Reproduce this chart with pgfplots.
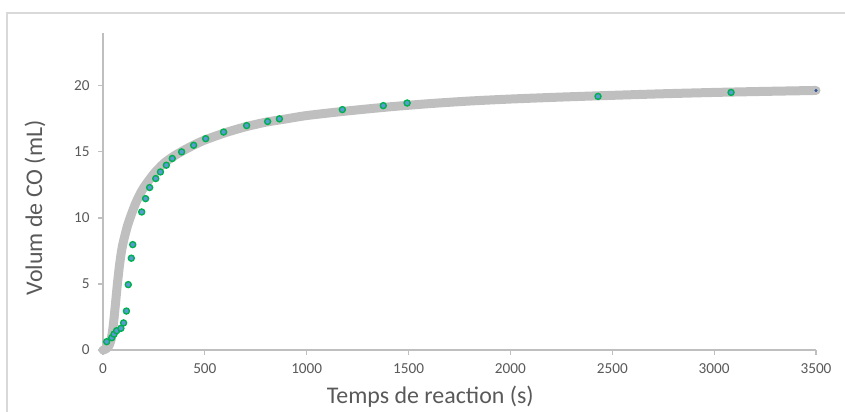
\documentclass[border=0pt]{standalone}
\usepackage{pgfplots}
\pgfplotsset{compat=1.18}
\usepackage{fontspec}
\setmainfont{Carlito}
\definecolor{axisgray}{HTML}{BFBFBF}
\definecolor{textgray}{HTML}{595959}
\definecolor{framegray}{HTML}{D9D9D9}
\definecolor{curvegray}{HTML}{BFBFBF}
\definecolor{mkgreen}{HTML}{00B050}
\definecolor{mkblue}{HTML}{5B9BD5}
\definecolor{enddot}{HTML}{2F5597}
\begin{document}
\begin{tikzpicture}
\useasboundingbox (0,0) rectangle (845bp,412bp);
\draw[framegray, line width=1.5bp] (7bp,0) -- (7bp,399bp) -- (845bp,399bp);
\begin{axis}[
  at={(103bp,62bp)}, anchor=south west,
  scale only axis, width=713bp, height=317bp,
  xmin=0, xmax=3500, ymin=0, ymax=24,
  xtick={0,500,...,3500}, ytick={0,5,...,20},
  axis x line=bottom, axis y line=left,
  axis line style={axisgray, line width=1.2bp, -},
  tick style={axisgray, line width=1.2bp},
  tick align=outside, major tick length=5bp,
  xtick pos=bottom, ytick pos=left,
  ticklabel style={font=\fontsize{15.3}{17}\selectfont, text=textgray},
  /pgf/number format/assume math mode=true,
  /pgf/number format/set thousands separator={},
  xticklabel style={yshift=-5bp},
  yticklabel style={xshift=-5bp},
  xlabel={Temps de reaction (s)},
  ylabel={Volum de CO (mL)},
  label style={font=\fontsize{24}{28}\selectfont, text=textgray},
  xlabel style={at={(axis description cs:0.459,-0.148)}, anchor=center},
  ylabel style={at={(axis description cs:-0.0954,0.448)}, anchor=center},
  clip=false,
]
\addplot[curvegray, line width=9bp, line cap=round, line join=round, smooth, tension=0.4] coordinates {
(0,0) (10,0.05) (20,0.15) (30,0.35) (40,0.8) (50,1.8) (60,3.3) (70,4.9) (80,6.3) (90,7.4) (100,8.2)
(120,9.4) (140,10.3) (160,11.1) (180,11.75) (200,12.3) (250,13.35) (300,14.15) (350,14.7) (400,15.15)
(450,15.55) (500,15.9) (600,16.45) (700,16.9) (800,17.25) (900,17.5) (1000,17.75) (1200,18.1)
(1400,18.4) (1600,18.65) (1800,18.85) (2000,19.0) (2250,19.15) (2500,19.28) (2750,19.4)
(3000,19.5) (3250,19.58) (3500,19.65)
};
\addplot[only marks, mark=*, mark size=1.3bp, color=enddot] coordinates {(3500,19.65)};
\addplot[only marks, mark=*, mark size=3bp, mark options={draw=mkgreen, fill=mkblue, line width=1.4bp}] coordinates {
(18,0.63) (43,0.93) (54,1.2) (67,1.46) (88,1.64) (101,2.05) (115,2.95) (124,4.95) (139,6.95)
(146,7.98) (190,10.45) (209,11.46) (229,12.3) (259,12.98) (282,13.48) (311,13.99) (340,14.5)
(386,15.0) (445,15.5) (504,16.0) (592,16.5) (705,16.99) (808,17.3) (866,17.5) (1175,18.2)
(1376,18.5) (1493,18.7) (2430,19.2) (3083,19.5)
};
\end{axis}
\end{tikzpicture}
\end{document}
